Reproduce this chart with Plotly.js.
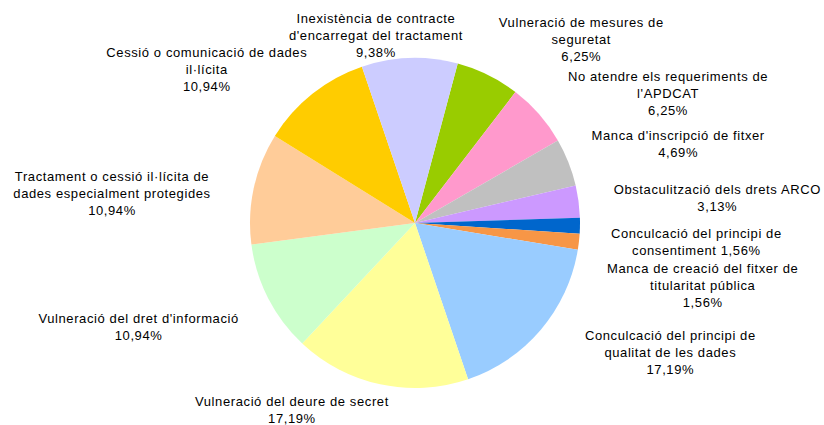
<!DOCTYPE html>
<html>
<head>
<meta charset="utf-8">
<script src="https://cdn.plot.ly/plotly-3.0.1.min.js"></script>
<style>html,body{margin:0;padding:0;background:#fff;}#chart{width:824px;height:425px;}
#chart .annotation-text{letter-spacing:0.6px;}</style>
</head>
<body>
<div id="chart"></div>
<script>
// Categories in clockwise order (starting at the green slice)
const labelLines = [
  ["Vulneració de mesures de", "seguretat"],
  ["No atendre els requeriments de", "l'APDCAT"],
  ["Manca d'inscripció de fitxer"],
  ["Obstaculització dels drets ARCO"],
  ["Conculcació del principi de", "consentiment"],
  ["Manca de creació del fitxer de", "titularitat pública"],
  ["Conculcació del principi de", "qualitat de les dades"],
  ["Vulneració del deure de secret"],
  ["Vulneració del dret d'informació"],
  ["Tractament o cessió il·lícita de", "dades especialment protegides"],
  ["Cessió o comunicació de dades", "il·lícita"],
  ["Inexistència de contracte", "d'encarregat del tractament"]
];
const values = [6.25, 6.25, 4.69, 3.13, 1.56, 1.56, 17.19, 17.19, 10.94, 10.94, 10.94, 9.38];
const colors = ["#99CC00", "#FF99CC", "#C0C0C0", "#CC99FF", "#0066CC", "#F79646",
                "#99CCFF", "#FFFF99", "#CCFFCC", "#FFCC99", "#FFCC00", "#CCCCFF"];
// whether the percentage sits on the same line as the last label line
const pctInline = [false, false, false, false, true, false, false, false, false, false, false, false];
// label block centres in pixels (x, y from top)
const labelPos = [
  [581, 39], [668, 93.5], [678, 144], [717, 197.5], [696, 242], [702, 285],
  [670, 352.5], [292, 410], [138, 326.5], [112, 193.5], [207, 69.5], [376, 35]
];

const W = 824, H = 425;
const fmt = v => v.toFixed(2).replace('.', ',') + '%';
const names = labelLines.map(l => l.join(' '));

const annotations = labelLines.map((lines, i) => {
  let ls = lines.slice();
  if (pctInline[i]) ls[ls.length - 1] += ' ' + fmt(values[i]);
  else ls.push(fmt(values[i]));
  return {
    text: ls.join('<br>'),
    xref: 'paper', yref: 'paper',
    x: labelPos[i][0] / W, y: 1 - labelPos[i][1] / H,
    xanchor: 'center', yanchor: 'middle', align: 'center',
    showarrow: false,
    font: {family: 'Liberation Sans, Arial, sans-serif', size: 13, color: '#000'}
  };
});

const cx = 415, cy = 223, r = 165;
const trace = {
  type: 'pie',
  labels: names,
  values: values,
  sort: false,
  direction: 'clockwise',
  rotation: 15,
  marker: {colors: colors, line: {width: 0}},
  textinfo: 'none',
  hoverinfo: 'label+percent',
  domain: {x: [(cx - r) / W, (cx + r) / W], y: [1 - (cy + r) / H, 1 - (cy - r) / H]}
};

Plotly.newPlot('chart', [trace], {
  width: W, height: H,
  margin: {l: 0, r: 0, t: 0, b: 0},
  showlegend: false,
  paper_bgcolor: '#fff',
  annotations: annotations
}, {displayModeBar: false, staticPlot: true});
</script>
</body>
</html>
